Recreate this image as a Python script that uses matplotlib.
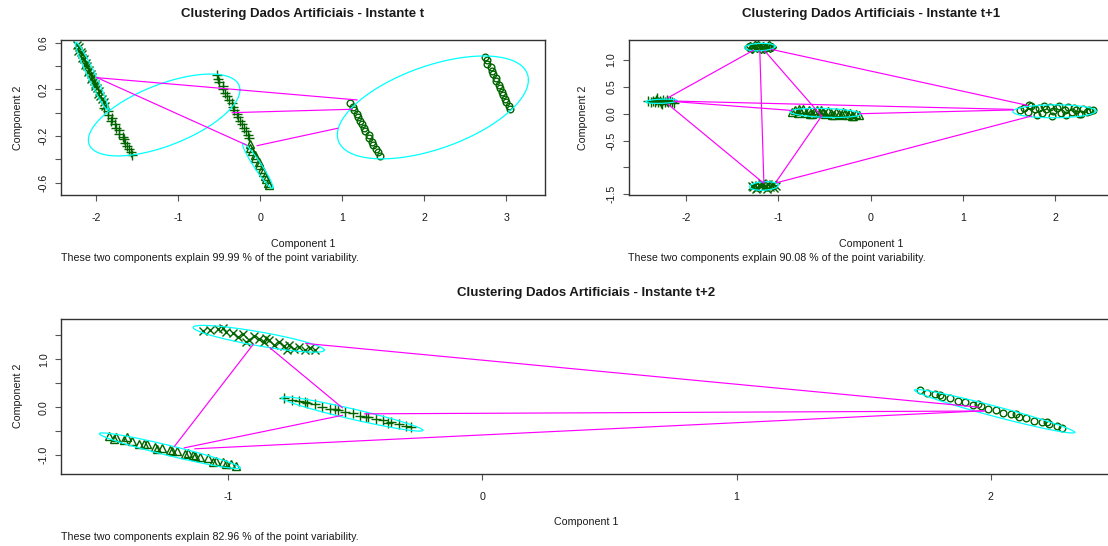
import numpy as np
import matplotlib
matplotlib.use("Agg")
import matplotlib.pyplot as plt

plt.rcParams['font.family'] = ['Liberation Sans', 'DejaVu Sans']

W, H = 1108, 546
PT_COL = '#006400'
ELL_COL = '#00FFFF'
LINE_COL = '#FF00FF'
TXT = '#1a1a1a'

# ---------------- Panel 1 : Instante t ----------------
p1_title = "Clustering Dados Artificiais - Instante t"
p1_sub = "These two components explain 99.99 % of the point variability."
p1_c1_x = [1.10, 1.13, 1.14, 1.18, 1.19, 1.22, 1.24, 1.27, 1.28, 1.32, 1.33, 1.36, 1.38, 1.41, 1.43, 1.46,
           2.74, 2.76, 2.77, 2.81, 2.82, 2.84, 2.87, 2.88, 2.91, 2.92, 2.95, 2.96, 2.99, 3.00, 3.03, 3.05]
p1_c1_y = [0.08, 0.05, 0.02, -0.01, -0.04, -0.07, -0.10, -0.13, -0.16, -0.19, -0.22, -0.25, -0.28, -0.31, -0.34, -0.37,
           0.48, 0.45, 0.42, 0.39, 0.36, 0.33, 0.30, 0.27, 0.24, 0.21, 0.18, 0.15, 0.12, 0.09, 0.06, 0.03]
p1_c2_x = [-0.13, -0.12, -0.10, -0.07, -0.06, -0.02, -0.01, 0.02, 0.03, 0.06, 0.07, 0.10, 0.11]
p1_c2_y = [-0.27, -0.30, -0.33, -0.36, -0.39, -0.42, -0.45, -0.48, -0.51, -0.54, -0.57, -0.60, -0.62]
p1_c3_x = [-1.90, -1.86, -1.86, -1.81, -1.82, -1.77, -1.76, -1.72, -1.72, -1.68, -1.66, -1.65, -1.62, -1.60, -1.58, -1.57,
           -0.53, -0.51, -0.50, -0.46, -0.45, -0.43, -0.40, -0.38, -0.35, -0.33, -0.32, -0.28, -0.27, -0.25, -0.22,
           -0.20, -0.18, -0.15, -0.14]
p1_c3_y = [0.04, 0.01, -0.02, -0.05, -0.07, -0.10, -0.13, -0.15, -0.18, -0.21, -0.23, -0.26, -0.29, -0.31, -0.34, -0.36,
           0.32, 0.29, 0.26, 0.23, 0.20, 0.17, 0.14, 0.11, 0.08, 0.05, 0.02, -0.01, -0.04, -0.07, -0.10,
           -0.13, -0.16, -0.19, -0.22]
p1_c4_x = [-2.23, -2.21, -2.22, -2.19, -2.17, -2.18, -2.15, -2.13, -2.14, -2.11, -2.09, -2.10, -2.07, -2.05, -2.06,
           -2.03, -2.01, -2.02, -1.99, -1.97, -1.98, -1.95, -1.93, -1.91, -1.89]
p1_c4_y = [0.58, 0.56, 0.53, 0.52, 0.50, 0.47, 0.46, 0.43, 0.41, 0.40, 0.37, 0.35, 0.33, 0.31, 0.29,
           0.27, 0.25, 0.23, 0.21, 0.19, 0.16, 0.14, 0.12, 0.09, 0.06]
# ellipses: centre, half-extent in x / y, phase (deg)
p1_ell_cx = [2.105, -0.03, -1.172, -2.055]
p1_ell_cy = [0.045, -0.456, -0.02, 0.315]
p1_ell_rx = [1.165, 0.185, 0.924, 0.20]
p1_ell_ry = [0.441, 0.193, 0.351, 0.29]
p1_ell_ph = [57.8, 163.0, 52.4, 165.0]
p1_seg_x0 = [-1.99, -1.99, -0.343, -0.038]
p1_seg_y0 = [0.30, 0.30, 0.0, -0.283]
p1_seg_x1 = [1.18, -0.17, 1.117, 0.943]
p1_seg_y1 = [0.109, -0.277, 0.029, -0.134]
p1_xticks = [-2, -1, 0, 1, 2, 3]
p1_yticks = [-0.6, -0.4, -0.2, 0.0, 0.2, 0.4, 0.6]
p1_ylabels = ["-0.6", "", "-0.2", "", "0.2", "", "0.6"]

# ---------------- Panel 2 : Instante t+1 ----------------
p2_title = "Clustering Dados Artificiais - Instante t+1"
p2_sub = "These two components explain 90.08 % of the point variability."
p2_right_x = [1.62, 1.66, 1.70, 1.74, 1.78, 1.82, 1.86, 1.90, 1.94, 1.98, 2.02, 2.06, 2.10, 2.14, 2.18, 2.22, 2.26,
              2.30, 2.34, 2.38, 2.41, 1.72, 1.80, 1.88, 1.96, 2.04, 2.12, 2.20, 2.28, 2.36]
p2_right_y = [0.06, 0.10, 0.03, 0.14, 0.08, 0.11, 0.02, 0.09, 0.13, 0.05, 0.10, 0.01, 0.07, 0.12, 0.04, 0.06, -0.01,
              0.08, 0.03, 0.05, 0.07, 0.17, -0.02, 0.15, -0.04, 0.14, -0.03, 0.11, 0.00, 0.06]
p2_mid_x = [-0.85, -0.82, -0.79, -0.76, -0.73, -0.70, -0.67, -0.64, -0.61, -0.58, -0.55, -0.52, -0.49, -0.46, -0.43,
            -0.40, -0.37, -0.34, -0.31, -0.28, -0.25, -0.22, -0.19, -0.16, -0.13, -0.78, -0.66, -0.54, -0.42, -0.30, -0.20]
p2_mid_y = [0.04, 0.07, 0.01, 0.05, 0.09, 0.02, 0.06, 0.00, 0.04, 0.07, 0.01, 0.03, -0.01, 0.05, 0.02,
            -0.02, 0.03, 0.00, -0.03, 0.01, -0.02, 0.02, -0.04, -0.01, -0.03, 0.08, -0.01, 0.06, -0.03, 0.04, -0.05]
p2_left_x = [-2.41, -2.38, -2.36, -2.34, -2.32, -2.30, -2.28, -2.27, -2.25, -2.23, -2.21, -2.19, -2.17, -2.15, -2.13,
             -2.31, -2.26, -2.20]
p2_left_y = [0.23, 0.22, 0.24, 0.21, 0.25, 0.22, 0.23, 0.20, 0.26, 0.22, 0.24, 0.21, 0.23, 0.22, 0.20, 0.30, 0.19, 0.25]
p2_bot_x = [-1.29, -1.27, -1.25, -1.23, -1.21, -1.19, -1.17, -1.15, -1.13, -1.11, -1.09, -1.07, -1.05, -1.03,
            -1.24, -1.18, -1.12, -1.06]
p2_bot_y = [-1.34, -1.36, -1.32, -1.38, -1.33, -1.35, -1.31, -1.37, -1.34, -1.30, -1.36, -1.33, -1.38, -1.35,
            -1.40, -1.29, -1.40, -1.31]
p2_top_x = [-1.33, -1.31, -1.29, -1.27, -1.25, -1.23, -1.21, -1.19, -1.17, -1.15, -1.13, -1.11, -1.09, -1.07,
            -1.28, -1.22, -1.16, -1.10]
p2_top_y = [1.24, 1.26, 1.22, 1.25, 1.27, 1.23, 1.25, 1.21, 1.26, 1.24, 1.22, 1.25, 1.23, 1.24, 1.20, 1.28, 1.20, 1.27]
p2_ell_cx = [1.99, -0.49, -2.265, -1.155, -1.20]
p2_ell_cy = [0.045, 0.015, 0.232, -1.345, 1.24]
p2_ell_rx = [0.45, 0.385, 0.17, 0.155, 0.165]
p2_ell_ry = [0.12, 0.085, 0.04, 0.08, 0.07]
p2_ell_ph = [88.0, 105.0, 75.0, 80.0, 80.0]
p2_seg_x0 = [-2.193, -2.193, -2.12, -2.12, -1.20, -1.145, -1.073, -1.018, -1.018, -0.116]
p2_seg_y0 = [0.298, 0.174, 0.235, 0.225, 1.166, 1.166, 1.197, -1.255, -1.285, 0.0]
p2_seg_x1 = [-1.272, -1.164, 1.542, -0.856, -1.156, -0.531, 1.70, -0.531, 1.74, 1.542]
p2_seg_y1 = [1.179, -1.285, 0.08, 0.061, -1.285, -0.044, 0.155, -0.044, -0.044, 0.07]
p2_xticks = [-2, -1, 0, 1, 2]
p2_yticks = [-1.5, -1.0, -0.5, 0.0, 0.5, 1.0]
p2_ylabels = ["-1.5", "", "-0.5", "0.0", "0.5", "1.0"]

# ---------------- Panel 3 : Instante t+2 ----------------
p3_title = "Clustering Dados Artificiais - Instante t+2"
p3_sub = "These two components explain 82.96 % of the point variability."
p3_right_x = [1.72, 1.75, 1.78, 1.81, 1.84, 1.87, 1.90, 1.93, 1.96, 1.99, 2.02, 2.05, 2.08, 2.11, 2.14, 2.17, 2.20,
              2.23, 2.26, 2.28, 1.80, 1.95, 2.10, 2.22]
p3_right_y = [0.35, 0.30, 0.27, 0.21, 0.19, 0.13, 0.10, 0.04, 0.03, -0.04, -0.05, -0.12, -0.14, -0.20, -0.22, -0.28,
              -0.30, -0.36, -0.39, -0.43, 0.26, 0.06, -0.15, -0.31]
p3_tri_x = [-1.47, -1.44, -1.41, -1.38, -1.35, -1.32, -1.29, -1.26, -1.23, -1.20, -1.17, -1.14, -1.11, -1.08, -1.05,
            -1.02, -0.99, -0.97, -1.40, -1.28, -1.16, -1.06, -1.45, -1.33, -1.22, -1.13, -1.01]
p3_tri_y = [-0.60, -0.63, -0.69, -0.70, -0.76, -0.78, -0.83, -0.85, -0.90, -0.92, -0.98, -1.00, -1.05, -1.07, -1.12,
            -1.14, -1.19, -1.22, -0.62, -0.87, -0.95, -1.15, -0.66, -0.77, -0.92, -1.03, -1.18]
p3_plus_x = [-0.78, -0.75, -0.72, -0.69, -0.66, -0.63, -0.60, -0.57, -0.54, -0.51, -0.48, -0.45, -0.42, -0.39, -0.36,
             -0.33, -0.30, -0.28, -0.70, -0.58, -0.46, -0.37]
p3_plus_y = [0.20, 0.15, 0.13, 0.08, 0.06, 0.01, -0.03, -0.05, -0.10, -0.13, -0.18, -0.20, -0.25, -0.27, -0.32,
             -0.35, -0.40, -0.42, 0.11, -0.04, -0.21, -0.33]
p3_x_x = [-1.10, -1.07, -1.04, -1.01, -0.98, -0.96, -0.94, -0.92, -0.90, -0.88, -0.86, -0.84, -0.82, -0.80, -0.78,
          -0.76, -0.74, -0.72, -0.70, -0.68, -0.66, -1.02, -0.93, -0.85, -0.77]
p3_x_y = [1.60, 1.61, 1.64, 1.57, 1.55, 1.46, 1.52, 1.40, 1.48, 1.43, 1.36, 1.40, 1.31, 1.36, 1.27,
          1.31, 1.22, 1.26, 1.19, 1.23, 1.20, 1.66, 1.37, 1.45, 1.20]
p3_ell_cx = [2.015, -1.23, -0.513, -0.88]
p3_ell_cy = [-0.085, -0.91, -0.142, 1.43]
p3_ell_rx = [0.315, 0.277, 0.278, 0.258]
p3_ell_ry = [0.455, 0.372, 0.358, 0.28]
p3_ell_ph = [166.0, 163.0, 162.0, 148.0]
p3_seg_x0 = [-0.695, -0.463, -1.131, -1.173, -1.211, -0.836]
p3_seg_y0 = [1.333, -0.139, -0.87, -0.85, -0.815, 1.242]
p3_seg_x1 = [1.952, 1.974, 1.974, -0.551, -0.902, -0.551]
p3_seg_y1 = [0.0, -0.08, -0.075, -0.17, 1.312, -0.013]
p3_xticks = [-1, 0, 1, 2]
p3_yticks = [-1.0, -0.5, 0.0, 0.5, 1.0, 1.5]
p3_ylabels = ["-1.0", "", "0.0", "", "1.0", ""]

FS = 7.7
TFS = 9.5

fig = plt.figure(figsize=(W / 100, H / 100), dpi=100)


def px_axes(l, t, r, b):
    return fig.add_axes([l / W, 1 - b / H, (r - l) / W, (b - t) / H])


def ftext(x, y, s, **kw):
    fig.text(x / W, 1 - y / H, s, color=TXT, **kw)


def style(ax, xlim, ylim, xticks, yticks, ylabels):
    ax.set_xlim(*xlim)
    ax.set_ylim(*ylim)
    ax.set_xticks(xticks)
    ax.set_xticklabels([str(v) for v in xticks])
    ax.set_yticks(yticks)
    ax.set_yticklabels(ylabels, rotation=90, va='center')
    for sp in ax.spines.values():
        sp.set_color('#333333')
        sp.set_linewidth(1.0)
    ax.tick_params(axis='both', length=4.3, width=0.8, color='#555555', labelsize=FS, labelcolor=TXT)
    ax.tick_params(axis='x', pad=9.0)
    ax.tick_params(axis='y', pad=4.5)


def draw_ellipses(ax, cx, cy, rx, ry, ph):
    t = np.linspace(0, 2 * np.pi, 200)
    for a, b, c, d, p in zip(cx, cy, rx, ry, ph):
        ax.plot(a + c * np.cos(t), b + d * np.cos(t - np.radians(p)), color=ELL_COL, lw=0.9, zorder=3)


def draw_segments(ax, x0, y0, x1, y1):
    for a, b, c, d in zip(x0, y0, x1, y1):
        ax.plot([a, c], [b, d], color=LINE_COL, lw=0.85, zorder=4)


def pts(ax, x, y, m, ms):
    ax.plot(x, y, linestyle='none', marker=m, ms=ms, mfc='none', mec=PT_COL, mew=1.0, zorder=2)


# Panel 1
ax1 = px_axes(61, 40, 545.3, 195)
pts(ax1, p1_c1_x, p1_c1_y, 'o', 4.8)
pts(ax1, p1_c2_x, p1_c2_y, '^', 5.2)
pts(ax1, p1_c3_x, p1_c3_y, '+', 7.0)
pts(ax1, p1_c4_x, p1_c4_y, 'x', 5.2)
draw_ellipses(ax1, p1_ell_cx, p1_ell_cy, p1_ell_rx, p1_ell_ry, p1_ell_ph)
draw_segments(ax1, p1_seg_x0, p1_seg_y0, p1_seg_x1, p1_seg_y1)
style(ax1, (-2.43, 3.476), (-0.706, 0.623), p1_xticks, p1_yticks, p1_ylabels)

# Panel 2
ax2 = px_axes(628.7, 40, 1113, 195)
pts(ax2, p2_right_x, p2_right_y, 'o', 4.8)
pts(ax2, p2_mid_x, p2_mid_y, '^', 5.2)
pts(ax2, p2_left_x, p2_left_y, '+', 7.0)
pts(ax2, p2_bot_x, p2_bot_y, 'x', 5.2)
pts(ax2, p2_top_x, p2_top_y, 'D', 4.2)
draw_ellipses(ax2, p2_ell_cx, p2_ell_cy, p2_ell_rx, p2_ell_ry, p2_ell_ph)
draw_segments(ax2, p2_seg_x0, p2_seg_y0, p2_seg_x1, p2_seg_y1)
style(ax2, (-2.62, 2.625), (-1.513, 1.372), p2_xticks, p2_yticks, p2_ylabels)

# Panel 3
ax3 = px_axes(61, 318.7, 1111, 474)
pts(ax3, p3_right_x, p3_right_y, 'o', 4.8)
pts(ax3, p3_tri_x, p3_tri_y, '^', 5.2)
pts(ax3, p3_plus_x, p3_plus_y, '+', 7.0)
pts(ax3, p3_x_x, p3_x_y, 'x', 5.2)
draw_ellipses(ax3, p3_ell_cx, p3_ell_cy, p3_ell_rx, p3_ell_ry, p3_ell_ph)
draw_segments(ax3, p3_seg_x0, p3_seg_y0, p3_seg_x1, p3_seg_y1)
style(ax3, (-1.658, 2.473), (-1.397, 1.85), p3_xticks, p3_yticks, p3_ylabels)

# texts
ftext(303, 14, p1_title, ha='center', va='center', fontsize=TFS, fontweight='bold')
ftext(871, 14, p2_title, ha='center', va='center', fontsize=TFS, fontweight='bold')
ftext(586, 293, p3_title, ha='center', va='center', fontsize=TFS, fontweight='bold')
ftext(303, 244, "Component 1", ha='center', va='center', fontsize=FS)
ftext(871, 244, "Component 1", ha='center', va='center', fontsize=FS)
ftext(586, 522, "Component 1", ha='center', va='center', fontsize=FS)
ftext(18, 117.5, "Component 2", ha='center', va='center', fontsize=FS, rotation=90)
ftext(583, 117.5, "Component 2", ha='center', va='center', fontsize=FS, rotation=90)
ftext(18, 396, "Component 2", ha='center', va='center', fontsize=FS, rotation=90)
ftext(61, 258, p1_sub, ha='left', va='center', fontsize=FS)
ftext(628, 258, p2_sub, ha='left', va='center', fontsize=FS)
ftext(61, 537, p3_sub, ha='left', va='center', fontsize=FS)

fig.savefig("out.png", dpi=100)
